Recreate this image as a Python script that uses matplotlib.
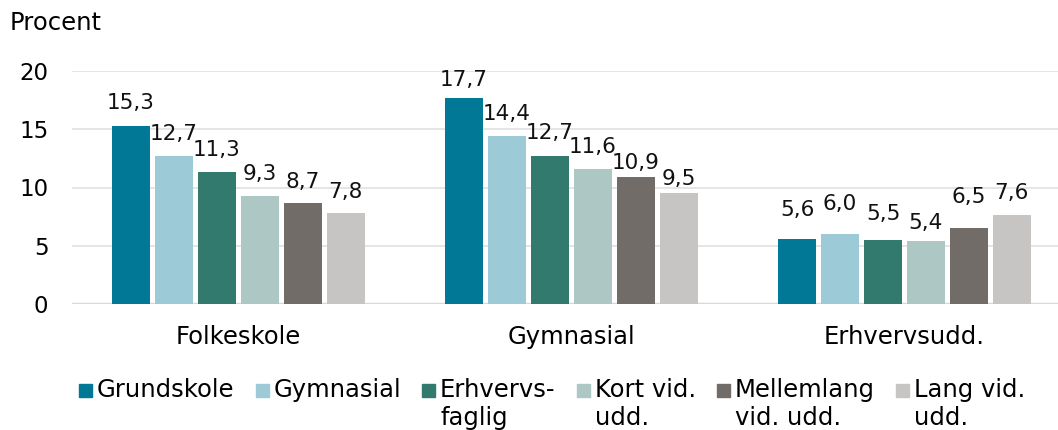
import matplotlib
matplotlib.use("Agg")
import matplotlib.pyplot as plt
from matplotlib.patches import Rectangle
import numpy as np

plt.rcParams['font.family'] = ['DejaVu Sans']

categories = ["Folkeskole", "Gymnasial", "Erhvervsudd."]
series_names = ["Grundskole", "Gymnasial", "Erhvervs-\nfaglig", "Kort vid.\nudd.",
                "Mellemlang\nvid. udd.", "Lang vid.\nudd."]
values = [
    [15.3, 17.7, 5.6],
    [12.7, 14.4, 6.0],
    [11.3, 12.7, 5.5],
    [9.3, 11.6, 5.4],
    [8.7, 10.9, 6.5],
    [7.8, 9.5, 7.6],
]
colors = ["#007896", "#9ccad6", "#337a6e", "#adc8c4", "#726c68", "#c6c5c3"]
yticks = [0, 5, 10, 15, 20]
# vertical distance (px) of each value label's centre above its bar top (layout only)
label_gap_px = [
    [25, 20, 31],
    [24, 24, 32],
    [24, 25, 28],
    [23.5, 24, 20],
    [23, 16, 33],
    [23, 16, 24],
]

W, H = 1058, 430
DPI = 100
fig = plt.figure(figsize=(W / DPI, H / DPI), dpi=DPI)
ax_left, ax_right, ax_top, ax_bot = 72, 1058, 71, 304
ax = fig.add_axes([ax_left / W, 1 - ax_bot / H, (ax_right - ax_left) / W, (ax_bot - ax_top) / H])

num_fs = 15.5
txt_fs = 17.5
pitch = 0.129
bw = 0.112
x = np.arange(len(categories))
n = len(series_names)
for i, (name, vals, c) in enumerate(zip(series_names, values, colors)):
    xs = x + (i - (n - 1) / 2) * pitch
    bars = ax.bar(xs, vals, width=bw, color=c, zorder=3)
    for b, v, g in zip(bars, vals, label_gap_px[i]):
        ax.annotate(f"{v:.1f}".replace(".", ","), (b.get_x() + b.get_width() / 2, v),
                    xytext=(0, (g - 2) * 72 / DPI), textcoords="offset points",
                    ha="center", va="center",
                    fontsize=num_fs, color="#111111", zorder=4)

ax.set_xlim(-0.5, -0.5 + (ax_right - ax_left) / 333.0)
ax.set_ylim(0, 20)
ax.set_yticks(yticks)
ax.set_yticklabels([str(t) for t in yticks], fontsize=16.5)
ax.set_xticks(x)
ax.set_xticklabels(categories, fontsize=txt_fs)
ax.tick_params(axis="y", length=0, pad=17)
ax.tick_params(axis="x", length=0, pad=15)
for s in ax.spines.values():
    s.set_visible(False)
ax.yaxis.grid(True, color="#e3e3e3", linewidth=1.3, zorder=0)
ax.axhline(0, color="#d9d9d9", linewidth=2.5, zorder=2)
ax.set_axisbelow(True)

fig.text(10 / W, 1 - 23 / H, "Procent", fontsize=txt_fs, va="center", ha="left")

# legend laid out in pixel units
fig.canvas.draw()
renderer = fig.canvas.get_renderer()
lx = 79
sq = 13
line1_y = 390
for name, c in zip(series_names, colors):
    fig.patches.append(Rectangle((lx / W, 1 - (line1_y + sq / 2) / H), sq / W, sq / H,
                                 transform=fig.transFigure, color=c, figure=fig))
    t = fig.text((lx + 18) / W, 1 - (line1_y - 12) / H, name, fontsize=txt_fs,
                 va="top", ha="left", linespacing=1.2)
    bb = t.get_window_extent(renderer)
    lx = lx + 18 + bb.width + 21

fig.savefig("out.png", dpi=DPI)
